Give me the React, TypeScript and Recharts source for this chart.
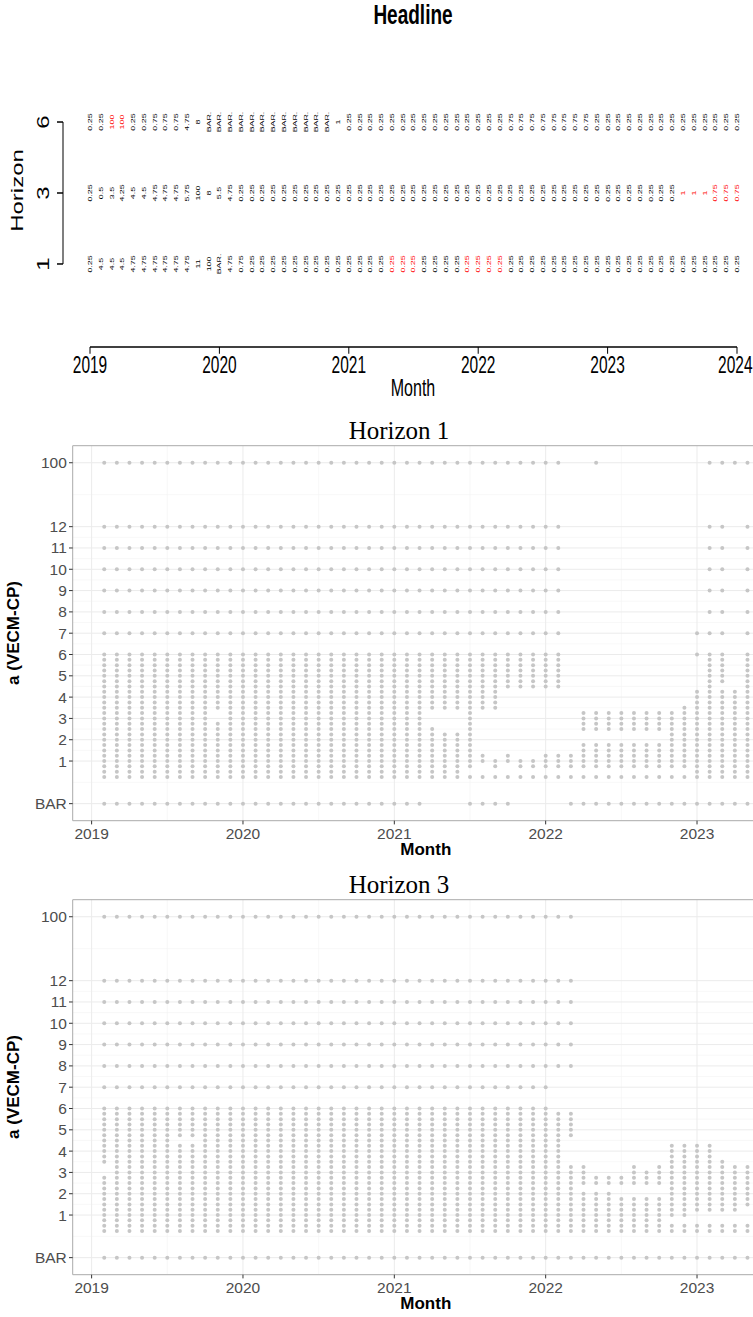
import React from 'react';
import {
  ScatterChart,
  Scatter,
  XAxis,
  YAxis,
  ReferenceLine,
  ReferenceArea,
  CartesianGrid,
} from 'recharts';

const SANS = '"Liberation Sans", Arial, Helvetica, sans-serif';
const SERIF = '"Liberation Serif", "Times New Roman", serif';

// ---------- Headline: chosen value per month (Jan 2019 .. Jan 2024) ----------
const HEAD_YEARS = ['2019', '2020', '2021', '2022', '2023', '2024'];
const HEAD_HORIZON_LABELS = ['1', '3', '6'];

const HEAD_H1 = [
  '0.25', '4.5', '4.5', '4.5', '4.75', '4.75', '4.75', '4.75', '4.75', '4.75', '11', '100', 'BAR.', '4.75', '0.75',
  '0.25', '0.25', '0.25', '0.25', '0.25', '0.25', '0.25', '0.25', '0.25', '0.25', '0.25', '0.25', '0.25', '0.25', '0.25',
  '0.25', '0.25', '0.25', '0.25', '0.25', '0.25', '0.25', '0.25', '0.25', '0.25', '0.25', '0.25', '0.25', '0.25', '0.25',
  '0.25', '0.25', '0.25', '0.25', '0.25', '0.25', '0.25', '0.25', '0.25', '0.25', '0.25', '0.25', '0.25', '0.25', '0.25',
  '0.25',
];
const HEAD_H1_RED = [28, 29, 30, 35, 36, 37, 38];

const HEAD_H3 = [
  '0.25', '0.5', '3.5', '4.25', '4.5', '4.5', '4.75', '4.75', '4.75', '5.75', '100', '8', '5.5', '4.75', '0.25',
  '0.25', '0.25', '0.25', '0.25', '0.25', '0.25', '0.25', '0.25', '0.25', '0.25', '0.25', '0.25', '0.25', '0.25', '0.25',
  '0.25', '0.25', '0.25', '0.25', '0.25', '0.25', '0.25', '0.25', '0.25', '0.25', '0.25', '0.25', '0.25', '0.25', '0.25',
  '0.25', '0.25', '0.25', '0.25', '0.25', '0.25', '0.25', '0.25', '0.25', '0.25', '1', '1', '1', '0.75', '0.75',
  '0.75',
];
const HEAD_H3_RED = [55, 56, 57, 58, 59, 60];

const HEAD_H6 = [
  '0.25', '0.25', '100', '100', '0.25', '0.25', '0.75', '0.75', '0.75', '4.75', '8', 'BAR.', 'BAR.', 'BAR.', 'BAR.',
  'BAR.', 'BAR.', 'BAR.', 'BAR.', 'BAR.', 'BAR.', 'BAR.', 'BAR.', '1', '0.25', '0.25', '0.25', '0.25', '0.25', '0.25',
  '0.25', '0.25', '0.25', '0.25', '0.25', '0.25', '0.25', '0.25', '0.25', '0.75', '0.75', '0.75', '0.75', '0.75', '0.75',
  '0.75', '0.75', '0.25', '0.25', '0.25', '0.25', '0.25', '0.25', '0.25', '0.25', '0.25', '0.25', '0.25', '0.25', '0.25',
  '0.25',
];
const HEAD_H6_RED = [2, 3];

// ---------- Horizon panels: admissible a per month (Feb 2019 .. May 2023) ----------
// low: runs of a between 0.25 and 6 (step 0.25); high: values above 6; bar: BAR admissible
const TOP = '7,8,9,10,11,12,100';

const H1_LOW = [
  '0.25-6', '0.25-6', '0.25-6', '0.25-6', '0.25-6', '0.25-6', '0.25-6', '0.25-6', '0.25-6',
  '0.25-2.75,3.5-6',
  '0.25-6', '0.25-6', '0.25-6', '0.25-6', '0.25-6', '0.25-6', '0.25-6', '0.25-6',
  '0.25-6', '0.25-6', '0.25-6', '0.25-6', '0.25-6', '0.25-6', '0.25-6', '0.25-6',
  '0.25-2.5,3.5-6', '0.25-2.25,3.5-6', '0.25-2.25,3.5-6',
  '0.25,0.75-6', '0.25,1-1.25,3.5-6', '0.25,0.75-1,3.5-6', '0.25,1-1.25,4.5-6',
  '0.25,0.75-1,4.5-6', '0.25,0.75-1,4.5-6', '0.25,0.75-1.25,4.5-6', '0.25,0.75-1.25,4.5-6',
  '0.25,0.75-1.25',
  '0.25,0.75-1.75,2.5-3.25', '0.25,0.75-1.75,2.5-3.25', '0.25,0.75-1.75,2.5-3.25', '0.25,0.75-1.75,2.5-3.25',
  '0.25,0.75-1.75,2.5-3.25', '0.25,0.75-1.75,2.5-3.25', '0.25,0.75-1.75,2.5-3.25',
  '0.25,0.75-3.25', '0.25,0.75-3.5',
  '0.25-4.25,6', '0.25-6', '0.25-4.25,4.75-6', '0.25-4.25', '0.25-6',
];
const H1_HIGH = [
  TOP, TOP, TOP, TOP, TOP, TOP, TOP, TOP, TOP, TOP, TOP, TOP, TOP, TOP, TOP, TOP, TOP, TOP,
  TOP, TOP, TOP, TOP, TOP, TOP, TOP, TOP, TOP, TOP, TOP, TOP, TOP, TOP, TOP, TOP, TOP, TOP, TOP,
  '', '', '100', '', '', '', '', '', '', '',
  '7', TOP, TOP, '100', TOP,
];
const H1_BAR = [
  1, 1, 1, 1, 1, 1, 1, 1, 1, 1, 1, 1, 1, 1, 1, 1, 1, 1, 1, 1, 1, 1, 1, 1, 1, 1,
  0, 0, 0, 1, 1, 1, 1, 0, 0, 0, 0,
  1, 1, 1, 1, 1, 1, 1, 1, 1, 1, 1, 1, 1, 1, 1,
];

const H3_LOW = [
  '0.25-2.75,3.5-6',
  '0.25-6', '0.25-6', '0.25-6', '0.25-6', '0.25-6',
  '0.25-4.25,4.75-6', '0.25-4.25,4.75-6',
  '0.25-6', '0.25-6', '0.25-6', '0.25-6', '0.25-6', '0.25-6', '0.25-6', '0.25-6', '0.25-6', '0.25-6',
  '0.25-6', '0.25-6', '0.25-6', '0.25-6', '0.25-6', '0.25-6', '0.25-6', '0.25-6', '0.25-6', '0.25-6',
  '0.25-6', '0.25-6', '0.25-6', '0.25-6', '0.25-6', '0.25-6', '0.25-6', '0.25-6',
  '0.25-5.75', '0.25-3.25,4.75-5.75',
  '0.25-2,2.5-3.25', '0.25-2,2.5-2.75', '0.25-2,2.5-2.75', '0.25-1.75,2.5-2.75',
  '0.25-1.75,2.5-3.25', '0.25-1.75,2.5-3', '0.25-1.75,2.5-3.25',
  '0.25-0.5,1-4.25', '0.25-0.5,1-4.25', '0.25-0.5,1.25-4.25', '0.25-0.5,1.25-4.25',
  '0.25-0.5,1.25-3.5', '0.25-0.5,1.25-3.25', '0.25-0.5,1.5-3.25',
];
const H3_HIGH = [
  TOP, TOP, TOP, TOP, TOP, TOP, TOP, TOP, TOP, TOP, TOP, TOP, TOP, TOP, TOP, TOP, TOP, TOP,
  TOP, TOP, TOP, TOP, TOP, TOP, TOP, TOP, TOP, TOP, TOP, TOP, TOP, TOP, TOP, TOP, TOP, TOP,
  '8,9,10,11,12,100', '8,9,10,11,12,100',
  '', '', '', '', '', '', '', '', '', '', '', '', '', '',
];
const H3_BAR = [
  1, 1, 1, 1, 1, 1, 1, 1, 1, 1, 1, 1, 1, 1, 1, 1, 1, 1, 1, 1, 1, 1, 1, 1, 1, 1,
  1, 1, 1, 1, 1, 1, 1, 1, 1, 1, 1, 1, 1, 1, 1, 1, 1, 1, 1, 1, 1, 1, 1, 1, 1, 1,
];

const A_TICKS = [-1, 1, 2, 3, 4, 5, 6, 7, 8, 9, 10, 11, 12, 15];
const A_MINOR = [0, 1.5, 2.5, 3.5, 4.5, 5.5, 6.5, 7.5, 8.5, 9.5, 10.5, 11.5, 13.5];
const YEAR_TICKS = [0, 12, 24, 36, 48];
const HALF_YEAR_TICKS = [6, 18, 30, 42, 54];

// a-axis position: BAR sits below the numbers, 100 above 12
const aPos = (v: number | 'BAR') => (v === 'BAR' ? -1 : v === 100 ? 15 : v);
const aLabel = (p: number) => (p === -1 ? 'BAR' : p === 15 ? '100' : String(p));

function expandRuns(spec: string): number[] {
  if (!spec) return [];
  const out: number[] = [];
  spec.split(',').forEach((part) => {
    const [a, b] = part.split('-').map(Number);
    if (part.indexOf('-') < 0) {
      out.push(a);
      return;
    }
    for (let v = a; v <= b + 1e-9; v += 0.25) out.push(Math.round(v * 100) / 100);
  });
  return out;
}

function buildDots(low: string[], high: string[], bar: number[]) {
  const pts: { x: number; y: number }[] = [];
  low.forEach((spec, i) => {
    const x = i + 1; // months since Jan 2019
    expandRuns(spec).forEach((v) => pts.push({ x, y: aPos(v) }));
    if (high[i]) high[i].split(',').forEach((v) => pts.push({ x, y: aPos(Number(v)) }));
    if (bar[i]) pts.push({ x, y: aPos('BAR') });
  });
  return pts;
}

function buildHead(labels: string[], red: number[], row: number) {
  return labels.map((label, k) => ({ x: k, y: row, label, red: red.includes(k) }));
}

const H1_DOTS = buildDots(H1_LOW, H1_HIGH, H1_BAR);
const H3_DOTS = buildDots(H3_LOW, H3_HIGH, H3_BAR);

const HEAD_ROWS = [
  buildHead(HEAD_H1, HEAD_H1_RED, 1),
  buildHead(HEAD_H3, HEAD_H3_RED, 2),
  buildHead(HEAD_H6, HEAD_H6_RED, 3),
];

// ---------- Headline text plot ----------
const HEAD_X_DOMAIN: [number, number] = [-2.504, 61.484];
const HEAD_Y_DOMAIN: [number, number] = [-0.169, 4.197];

const ValueText = (props: any) => {
  const { cx, cy, payload } = props;
  if (cx == null || cy == null) return null;
  return (
    <text
      x={cx}
      y={cy}
      transform={`rotate(-90 ${cx} ${cy})`}
      textAnchor="middle"
      dominantBaseline="central"
      fontSize={5.9}
      fontFamily={SANS}
      fill={payload.red ? '#FF0000' : '#000000'}
    >
      {payload.label}
    </text>
  );
};

const HorizonTick = (props: any) => {
  const { x, y, payload } = props;
  const cx = x - 11;
  return (
    <text
      x={cx}
      y={y}
      transform={`rotate(-90 ${cx} ${y})`}
      textAnchor="middle"
      dominantBaseline="central"
      fontSize={16}
      fontFamily={SANS}
      fill="#000"
    >
      {HEAD_HORIZON_LABELS[payload.value - 1]}
    </text>
  );
};

// year labels under the headline axis; the last one is kept inside the page edge
const YearTick = (props: any) => {
  const { x, y, payload } = props;
  const last = payload.value === 60;
  return (
    <text
      x={last ? 752.5 : x}
      y={y}
      dy="0.71em"
      textAnchor={last ? 'end' : 'middle'}
      fontSize={15.5}
      fontFamily={SANS}
      fill="#000"
    >
      {HEAD_YEARS[payload.value / 12]}
    </text>
  );
};

const HeadlinePanel = () => (
  <div
    style={{
      position: 'absolute',
      left: 0,
      top: 0,
      width: 753,
      height: 273,
      transform: 'scaleY(1.5)',
      transformOrigin: '0 0',
    }}
  >
    <div
      style={{
        position: 'absolute',
        left: 313,
        top: -1,
        width: 200,
        textAlign: 'center',
        fontFamily: SANS,
        fontWeight: 'bold',
        fontSize: 19,
        lineHeight: '22px',
      }}
    >
      Headline
    </div>
    <div
      style={{
        position: 'absolute',
        left: 18,
        top: 126.7,
        transform: 'translate(-50%, -50%) rotate(-90deg)',
        fontFamily: SANS,
        fontSize: 16,
        whiteSpace: 'nowrap',
      }}
    >
      Horizon
    </div>
    <div
      style={{
        position: 'absolute',
        left: 413,
        top: 258.7,
        transform: 'translate(-50%, -50%)',
        fontFamily: SANS,
        fontSize: 16,
        whiteSpace: 'nowrap',
      }}
    >
      Month
    </div>
    <ScatterChart
      width={753}
      height={273}
      margin={{ top: 24.7, right: 0, bottom: 11.7, left: 0 }}
      style={{ position: 'absolute', left: 0, top: 0 }}
    >
      <XAxis
        type="number"
        dataKey="x"
        domain={HEAD_X_DOMAIN}
        allowDataOverflow
        ticks={[0, 12, 24, 36, 48, 60]}
        interval={0}
        axisLine={false}
        tickSize={4.5}
        tickMargin={1.8}
        tickLine={{ stroke: '#000' }}
        tick={<YearTick />}
        height={30}
      />
      <YAxis
        type="number"
        dataKey="y"
        domain={HEAD_Y_DOMAIN}
        allowDataOverflow
        ticks={[1, 2, 3]}
        interval={0}
        axisLine={false}
        tickSize={6}
        tickMargin={2}
        tickLine={{ stroke: '#000' }}
        tick={<HorizonTick />}
        width={63}
      />
      <ReferenceLine
        segment={[
          { x: 0, y: HEAD_Y_DOMAIN[0] },
          { x: 60, y: HEAD_Y_DOMAIN[0] },
        ]}
        stroke="#000"
        ifOverflow="visible"
      />
      <ReferenceLine
        segment={[
          { x: HEAD_X_DOMAIN[0], y: 1 },
          { x: HEAD_X_DOMAIN[0], y: 3 },
        ]}
        stroke="#000"
        ifOverflow="visible"
      />
      {HEAD_ROWS.map((row, i) => (
        <Scatter key={i} data={row} shape={<ValueText />} isAnimationActive={false} />
      ))}
    </ScatterChart>
  </div>
);

// ---------- Horizon dot panels ----------
const H_X_DOMAIN: [number, number] = [-1.5, 54.5];
const H_Y_DOMAIN: [number, number] = [-1.8, 15.8];

const Dot = (props: any) => {
  const { cx, cy } = props;
  if (cx == null || cy == null) return null;
  return <circle cx={cx} cy={cy} r={2} fill="#C6C6C6" />;
};

const HorizonPanel = ({ title, dots, top }: { title: string; dots: { x: number; y: number }[]; top: number }) => (
  <div style={{ position: 'absolute', left: 0, top, width: 800, height: 452 }}>
    <div
      style={{
        position: 'absolute',
        left: 0,
        top: 0.7,
        width: 798,
        textAlign: 'center',
        fontFamily: SERIF,
        fontSize: 25,
        lineHeight: '30px',
        color: '#000',
      }}
    >
      {title}
    </div>
    <div
      style={{
        position: 'absolute',
        left: 14,
        top: 218,
        transform: 'translate(-50%, -50%) rotate(-90deg)',
        fontFamily: SANS,
        fontWeight: 'bold',
        fontSize: 17,
        whiteSpace: 'nowrap',
      }}
    >
      a (VECM-CP)
    </div>
    <div
      style={{
        position: 'absolute',
        left: 425.8,
        top: 435,
        transform: 'translate(-50%, -50%)',
        fontFamily: SANS,
        fontWeight: 'bold',
        fontSize: 17,
        whiteSpace: 'nowrap',
      }}
    >
      Month
    </div>
    <ScatterChart
      width={779}
      height={451}
      margin={{ top: 30.7, right: 0, bottom: 0.3, left: 0 }}
      style={{ position: 'absolute', left: 0, top: 0 }}
    >
      <CartesianGrid
        horizontalValues={A_MINOR}
        verticalValues={HALF_YEAR_TICKS}
        stroke="#F4F4F4"
        strokeWidth={0.6}
      />
      <CartesianGrid
        horizontalValues={A_TICKS}
        verticalValues={YEAR_TICKS}
        stroke="#EBEBEB"
        strokeWidth={1}
      />
      <XAxis
        type="number"
        dataKey="x"
        domain={H_X_DOMAIN}
        allowDataOverflow
        ticks={YEAR_TICKS}
        interval={0}
        tickFormatter={(v: number) => String(2019 + v / 12)}
        axisLine={false}
        tickSize={3.7}
        tickMargin={3.1}
        tickLine={{ stroke: '#333333' }}
        tick={{ fontSize: 15.5, fill: '#4D4D4D', fontFamily: SANS }}
        height={45}
      />
      <YAxis
        type="number"
        dataKey="y"
        domain={H_Y_DOMAIN}
        allowDataOverflow
        ticks={A_TICKS}
        interval={0}
        tickFormatter={aLabel}
        axisLine={false}
        tickSize={3.7}
        tickMargin={2.2}
        tickLine={{ stroke: '#333333' }}
        tick={{ fontSize: 15.5, fill: '#4D4D4D', fontFamily: SANS }}
        width={72.7}
      />
      <ReferenceArea
        x1={H_X_DOMAIN[0]}
        x2={H_X_DOMAIN[1]}
        y1={H_Y_DOMAIN[0]}
        y2={H_Y_DOMAIN[1]}
        fill="none"
        stroke="#ABABAB"
        strokeWidth={1}
        ifOverflow="visible"
      />
      <Scatter data={dots} shape={<Dot />} isAnimationActive={false} />
    </ScatterChart>
  </div>
);

export default function App() {
  return (
    <div
      style={{
        position: 'absolute',
        left: 0,
        top: 0,
        width: 753,
        height: 1317,
        overflow: 'hidden',
        background: '#fff',
      }}
    >
      <HeadlinePanel />
      <HorizonPanel title="Horizon 1" dots={H1_DOTS} top={415} />
      <HorizonPanel title="Horizon 3" dots={H3_DOTS} top={869.3} />
    </div>
  );
}
